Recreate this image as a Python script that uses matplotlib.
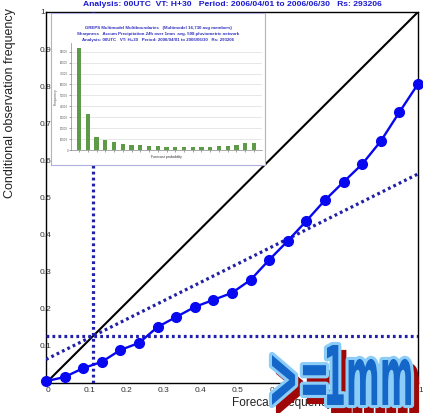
import matplotlib.pyplot as plt
from matplotlib.textpath import TextPath
from matplotlib.patches import PathPatch
from matplotlib.font_manager import FontProperties
from matplotlib.transforms import Affine2D

plt.rcParams['font.family'] = ['Liberation Sans', 'DejaVu Sans']
plt.rcParams['lines.scale_dashes'] = False

# reliability curve (>= 1 mm)
forecast = [0.0, 0.05, 0.1, 0.15, 0.2, 0.25, 0.3, 0.35, 0.4, 0.45, 0.5,
            0.55, 0.6, 0.65, 0.7, 0.75, 0.8, 0.85, 0.9, 0.95, 1.0]
observed = [0.005, 0.016, 0.040, 0.057, 0.089, 0.108, 0.151, 0.178, 0.205, 0.224, 0.243,
            0.278, 0.332, 0.383, 0.437, 0.493, 0.542, 0.590, 0.652, 0.730, 0.806]
climate = 0.127

# sharpness histogram
prob_bins = list(range(21))
counts = [93200, 32900, 11700, 9200, 7100, 5500, 4900, 4900, 4000, 3700, 2800,
          2800, 2800, 2800, 2800, 3100, 3700, 3700, 4300, 6200, 6800]

tick_vals = [0, 0.1, 0.2, 0.3, 0.4, 0.5, 0.6, 0.7, 0.8, 0.9, 1]
xtick_labels = ['0', '0.1', '0.2', '0.3', '0.4', '0.5', '0.6', '0.7', '0.8', '0.9', '1']
ytick_labels = ['', '0.1', '0.2', '0.3', '0.4', '0.5', '0.6', '0.7', '0.8', '0.9', '1']

title = 'Analysis: 00UTC  VT: H+30   Period: 2006/04/01 to 2006/06/30   Rs: 293206'
inset_title = ['GREPS Multimodel Multiboundaries   (Multimodel 16,730 avg members)',
               'Sharpness   Accum Precipitation 24h over 1mm  avg. 598 pluviometric network',
               'Analysis: 00UTC   VT: H+30   Period: 2006/04/01 to 2006/06/30   Rs: 293206']

W, H = 423, 413
fig = plt.figure(figsize=(W / 100, H / 100), dpi=100)
ax = fig.add_axes([46 / W, 30 / H, 372 / W, 371 / H])
ax.set_xlim(0, 1)
ax.set_ylim(0, 1)

dot = dict(color='#2020aa', lw=2.3, dashes=(2.0, 2.3), zorder=3)
ax.axhline(climate, **dot)
ax.axvline(climate, **dot)
ax.plot([0, 1], [climate / 2, (1 + climate) / 2], **dot)
ax.plot([0, 1], [0, 1], color='black', lw=1.5, zorder=2)
ax.plot(forecast, observed, color='#0808f0', lw=1.7, marker='o', ms=7,
        clip_on=False, zorder=4)

ax.set_xticks(tick_vals)
ax.set_xticklabels(xtick_labels)
ax.set_yticks(tick_vals)
ax.set_yticklabels(ytick_labels)
ax.tick_params(length=0, labelsize=6, labelcolor='#333333')
ax.tick_params(axis='x', pad=3)
ax.tick_params(axis='y', pad=4.3)
plt.setp(ax.get_xticklabels(), ha='left')
plt.setp(ax.get_yticklabels(), ha='left')
for sp in ax.spines.values():
    sp.set_linewidth(1.0)

fig.text(232 / W, 1 - 5 / H, title, ha='center', va='center', fontsize=6.1,
         fontweight='bold', color='#1a1ad0')
fig.text(10 / W, 1 - 103 / H, 'Conditional observation frequency', rotation=90,
         ha='center', va='center', fontsize=9, color='#222222')
fig.text(232 / W, 10 / H, 'Forecast frequency', ha='left', va='center',
         fontsize=8.5, color='#222222')

# sharpness panel pasted over the upper-left corner
ins = fig.add_axes([51 / W, (H - 165) / H, 214 / W, 152 / H], zorder=5)
ins.set_xticks([])
ins.set_yticks([])
for sp in ins.spines.values():
    sp.set_color('#b0b0e0')
    sp.set_linewidth(0.8)
for i, line in enumerate(inset_title):
    ins.text(0.5, 0.9 - i * 0.038, line, ha='center', va='center', fontsize=3.2,
             color='#3030c0', fontweight='bold', transform=ins.transAxes)

bx = fig.add_axes([71 / W, (H - 150) / H, 191 / W, 107 / H], zorder=6)
bx.bar(prob_bins, counts, width=0.5, color='#5e9a47', zorder=3)
bx.set_xlim(-0.92, 20.92)
bx.set_ylim(0, 98000)
bx.set_yticks(range(0, 98000, 10000))
bx.set_xticks(prob_bins)
bx.set_xticklabels([])
bx.grid(axis='y', color='#dddddd', lw=0.5, zorder=0)
bx.tick_params(labelsize=2, length=1.2, width=0.4, pad=0.8, colors='#555555')
bx.set_ylabel('Frequency', fontsize=2.5, color='#555555', labelpad=2)
bx.set_xlabel('Forecast probability', fontsize=2.5, color='#333333', labelpad=1.5)
bx.spines['top'].set_visible(False)
bx.spines['right'].set_visible(False)
bx.spines['left'].set_color('#888888')
bx.spines['bottom'].set_color('#888888')
bx.spines['left'].set_linewidth(0.5)
bx.spines['bottom'].set_linewidth(0.5)

# ">=1mm" badge in the lower-right corner
fp = FontProperties(family='DejaVu Sans', weight='bold')


def badge_path(s, x0, x1, y0, y1):
    tp = TextPath((0, 0), s, size=1, prop=fp)
    ext = tp.get_extents()
    tr = (Affine2D().translate(-ext.x0, -ext.y0)
          .scale((x1 - x0) / ext.width, (y1 - y0) / ext.height)
          .translate(x0, y0))
    return tr.transform_path(tp)


px = Affine2D().scale(1 / W, 1 / H) + fig.transFigure
shadow_tr = Affine2D().translate(6, -7) + px
for path in [badge_path('>=', 272, 326, 8, 58), badge_path('1mm', 327, 411, 8, 68)]:
    fig.add_artist(PathPatch(path, transform=shadow_tr, fc='#a00808', ec='#a00808',
                             lw=3, zorder=10))
    fig.add_artist(PathPatch(path, transform=px, fc='#8ccdf8', ec='#8ccdf8',
                             lw=4.5, joinstyle='round', zorder=11))
    fig.add_artist(PathPatch(path, transform=px, fc='#1466c8', ec='none', zorder=12))

fig.savefig('out.png', dpi=100)
